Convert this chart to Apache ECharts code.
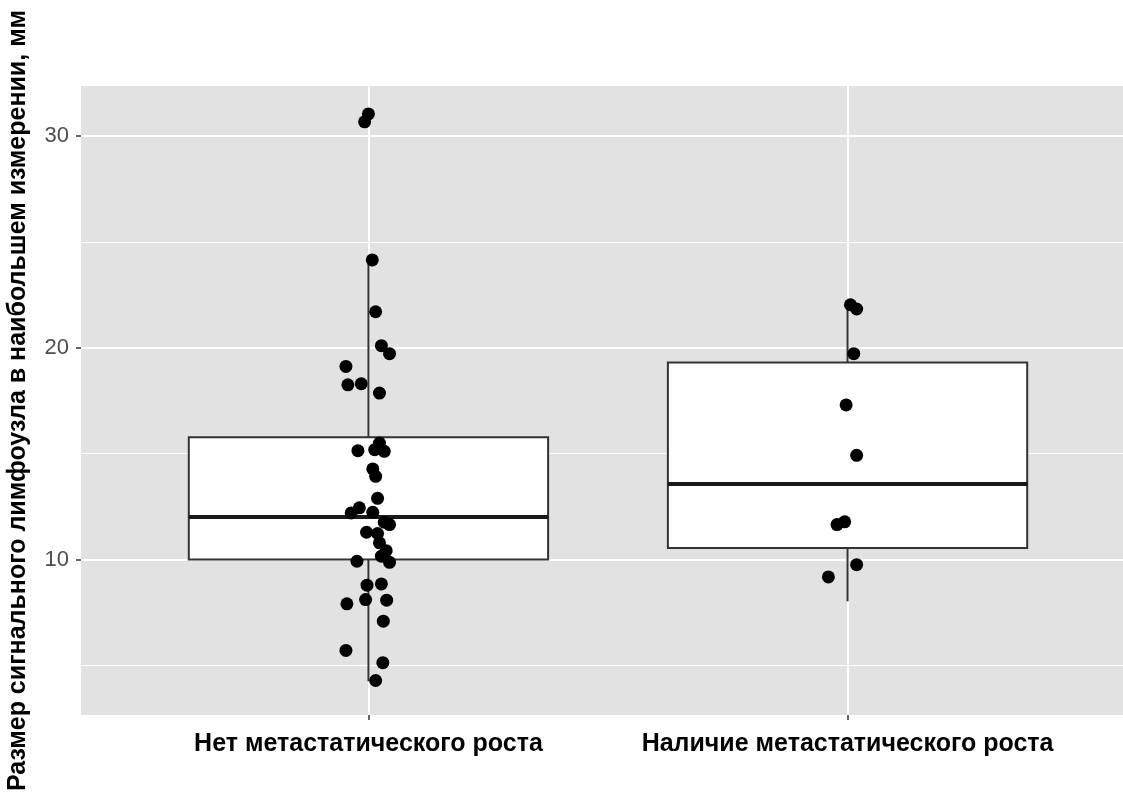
<!DOCTYPE html>
<html>
<head>
<meta charset="utf-8">
<script src="https://cdn.jsdelivr.net/npm/echarts@6/dist/echarts.min.js"></script>
<style>html,body{margin:0;padding:0;background:#fff}#c{width:1123px;height:801px}</style>
</head>
<body>
<div id="c"></div>
<script>
const categories = ['Нет метастатического роста', 'Наличие метастатического роста'];
const yTitle = 'Размер сигнального лимфоузла в наибольшем измерении, мм';
const yTickValues = [10, 20, 30];
const yMajorGrid = [10, 20, 30];
const yMinorGrid = [5, 15, 25];

// box stats: [low whisker, Q1, median, Q3, high whisker]
const box1 = [4.25, 10.0, 12.01, 15.77, 24.15];
const box2 = [8.03, 10.55, 13.57, 19.31, 22.03];

// points (values) and horizontal jitter offsets
const group1Values = [31.04, 30.67, 24.15, 21.7, 20.1, 19.72, 19.12, 18.25, 18.3, 17.86,
  15.5, 15.14, 15.19, 15.11, 14.28, 13.93, 12.89, 12.44, 12.2, 12.23,
  11.76, 11.65, 11.29, 11.23, 10.79, 10.42, 10.16, 9.87, 9.92, 8.79,
  8.85, 7.91, 8.11, 8.08, 7.09, 5.71, 5.13, 4.29];
const group1Jitter = [0, -0.008, 0.008, 0.015, 0.027, 0.044, -0.047, -0.043, -0.015, 0.023,
  0.023, -0.022, 0.013, 0.033, 0.009, 0.015, 0.019, -0.019, -0.036, 0.009,
  0.033, 0.044, -0.004, 0.019, 0.023, 0.037, 0.027, 0.044, -0.024, -0.003,
  0.027, -0.045, -0.006, 0.038, 0.031, -0.047, 0.03, 0.015];
const group2Values = [22.03, 21.83, 19.72, 17.3, 14.92, 11.78, 11.65, 9.76, 9.18];
const group2Jitter = [0.006, 0.019, 0.013, -0.003, 0.019, -0.006, -0.022, 0.019, -0.04];

const points = [];
group1Values.forEach((v, i) => points.push([1 + group1Jitter[i], v]));
group2Values.forEach((v, i) => points.push([2 + group2Jitter[i], v]));
const boxData = [[1].concat(box1), [2].concat(box2)];

const chart = echarts.init(document.getElementById('c'));
const BOXHALF = 0.375;
const FONT = 'Liberation Sans, Arial, Helvetica, sans-serif';
chart.setOption({
  animation: false,
  backgroundColor: '#ffffff',
  grid: { left: 81, top: 86, right: -12, bottom: 86, show: true, backgroundColor: '#e2e2e2', borderWidth: 0,
    outerBoundsMode: 'none', containLabel: false },
  xAxis: {
    type: 'value', min: 0.4, max: 2.6,
    axisLine: { show: false },
    splitLine: { show: false },
    axisTick: { show: true, customValues: [1, 2], length: 5, lineStyle: { color: '#333', width: 1.5 } },
    axisLabel: {
      customValues: [1, 2], margin: 17,
      formatter: v => categories[Math.round(v) - 1] || '',
      color: '#000', fontWeight: 'bold', fontSize: 25, fontFamily: FONT
    }
  },
  yAxis: {
    type: 'value', min: 2.66, max: 32.36,
    name: yTitle, nameLocation: 'middle', nameGap: 50,
    nameTextStyle: { color: '#000', fontWeight: 'bold', fontSize: 25, fontFamily: FONT },
    axisLine: { show: false },
    splitLine: { show: false },
    axisTick: { show: true, customValues: yTickValues, length: 5, lineStyle: { color: '#333', width: 1.5 } },
    axisLabel: { customValues: yTickValues, margin: 12, color: '#4d4d4d', fontSize: 22, fontFamily: FONT }
  },
  series: [
    {
      type: 'line', data: [], silent: true, z: 1,
      markLine: {
        silent: true, symbol: 'none', z: 1, label: { show: false }, animation: false,
        data: yMajorGrid.map(v => ({ yAxis: v, lineStyle: { color: '#fff', width: 2, type: 'solid' } }))
          .concat(yMinorGrid.map(v => ({ yAxis: v, lineStyle: { color: '#fff', width: 1, type: 'solid' } })))
          .concat([1, 2].map(v => ({ xAxis: v, lineStyle: { color: '#fff', width: 2, type: 'solid' } })))
      }
    },
    {
      type: 'custom', z: 2, silent: true,
      data: boxData,
      renderItem: function (params, api) {
        const x = api.value(0);
        const pLow = api.coord([x, api.value(1)]);
        const pQ1 = api.coord([x, api.value(2)]);
        const pMed = api.coord([x, api.value(3)]);
        const pQ3 = api.coord([x, api.value(4)]);
        const pHigh = api.coord([x, api.value(5)]);
        const left = api.coord([x - BOXHALF, api.value(3)])[0];
        const right = api.coord([x + BOXHALF, api.value(3)])[0];
        const stroke = '#333333';
        return {
          type: 'group',
          children: [
            { type: 'line', shape: { x1: pQ3[0], y1: pQ3[1], x2: pHigh[0], y2: pHigh[1] }, style: { stroke: stroke, lineWidth: 2 } },
            { type: 'line', shape: { x1: pQ1[0], y1: pQ1[1], x2: pLow[0], y2: pLow[1] }, style: { stroke: stroke, lineWidth: 2 } },
            { type: 'rect', shape: { x: left, y: pQ3[1], width: right - left, height: pQ1[1] - pQ3[1] }, style: { fill: '#fff', stroke: stroke, lineWidth: 2 } },
            { type: 'line', shape: { x1: left, y1: pMed[1], x2: right, y2: pMed[1] }, style: { stroke: '#1a1a1a', lineWidth: 4 } }
          ]
        };
      }
    },
    {
      type: 'scatter', z: 4, data: points, symbolSize: 13,
      itemStyle: { color: '#000', opacity: 1 }
    }
  ]
});
</script>
</body>
</html>
